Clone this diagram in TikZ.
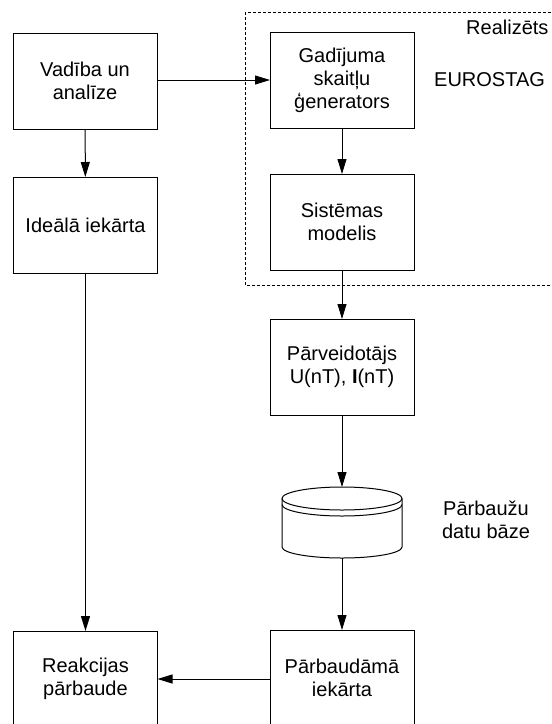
\documentclass[tikz,border=0pt]{standalone}
\usepackage{fontspec}
\setmainfont{Liberation Sans}
\usetikzlibrary{arrows.meta}
\begin{document}
\begin{tikzpicture}[x=1pt,y=1pt,
 box/.style={draw, line width=1pt, minimum width=144pt, minimum height=96pt, inner sep=0pt, outer sep=0pt, align=center, font=\fontsize{20}{23}\selectfont},
 lbl/.style={inner sep=0pt, align=center, font=\fontsize{20}{23}\selectfont},
 arr/.style={line width=1pt, -{Triangle[length=15pt,width=9pt]}},
 cyl/.style={line width=1pt},
]
\useasboundingbox (0,0) rectangle (552,-724);
\draw[line width=0.6pt, dash pattern=on 3pt off 2pt] (245,-12) rectangle (570,-285);
\node[box] (vad) at (85,-81) {Vadība un\\analīze};
\node[box] (ide) at (85.5,-225) {Ideālā iekārta};
\node[box] (gen) at (342,-80) {Gadījuma\\skaitļu\\ģenerators};
\node[box] (sis) at (342,-222) {Sistēmas\\modelis};
\node[box] (par) at (342,-367) {Pārveidotājs\\U(nT), \textbf{I}(nT)};
\node[inner sep=0pt, outer sep=0pt, minimum width=120pt, minimum height=71pt] (db) at (342,-522.5) {};
\node[box] (pba) at (342,-678) {Pārbaudāmā\\iekārta};
\node[box] (rea) at (85.5,-679) {Reakcijas\\pārbaude};
\draw[cyl] ([yshift=-11.5pt]db.north) ellipse [x radius=60pt, y radius=11.5pt];
\draw[cyl] ([yshift=-11.5pt]db.north west) -- ([yshift=11pt]db.south west) arc[start angle=180, end angle=360, x radius=60pt, y radius=11pt] -- ([yshift=-11.5pt]db.north east);
\draw[cyl] ([yshift=-17.5pt]db.north west) arc[start angle=180, end angle=360, x radius=60pt, y radius=11.5pt];
\node[lbl, anchor=west] (rl) at (466,-27) {Realizēts};
\node[lbl, anchor=west] (eu) at (434,-80) {EUROSTAG};
\node[lbl] (pdb) at (486,-520) {Pārbaužu\\datu bāze};
\draw[arr] (vad) -- (ide);
\draw[arr] (vad.east |- gen.west) -- (gen.west);
\draw[arr] (gen) -- (sis);
\draw[arr] (sis) -- (par);
\draw[arr] (par) -- (db);
\draw[arr] (db) -- (pba);
\draw[arr] (ide) -- (rea);
\draw[arr] (pba.west |- rea.east) -- (rea.east);
\end{tikzpicture}
\end{document}
